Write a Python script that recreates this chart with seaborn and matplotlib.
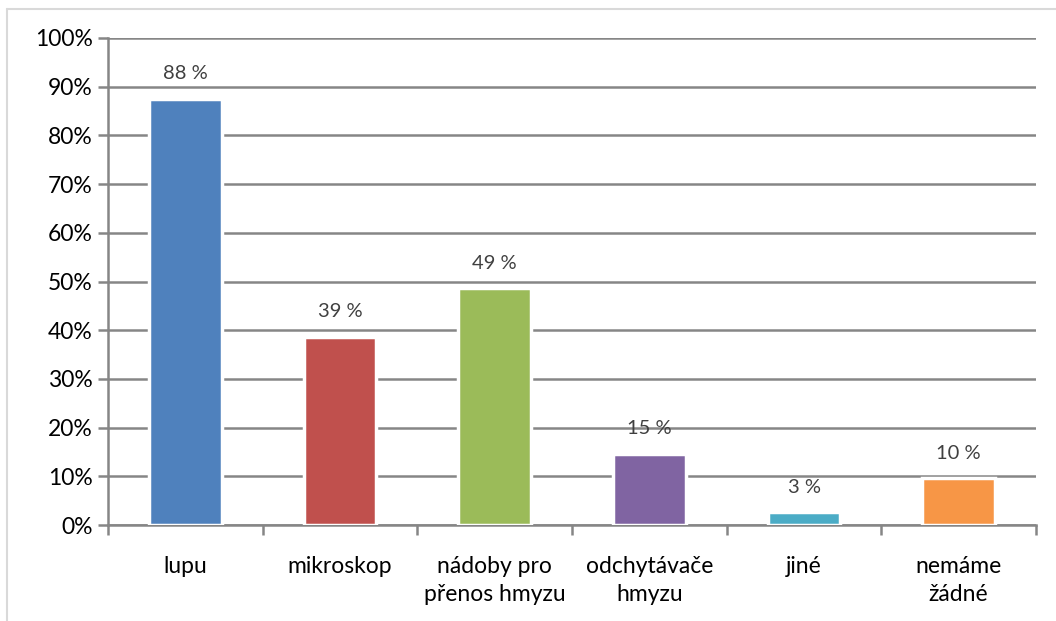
import numpy as np
import matplotlib.pyplot as plt
import pandas as pd
import seaborn as sns
from matplotlib.lines import Line2D

# data
categories = ['lupu', 'mikroskop', 'nádoby pro\npřenos hmyzu', 'odchytávače\nhmyzu', 'jiné', 'nemáme\nžádné']
values = [87.5, 38.6, 48.6, 14.6, 2.6, 9.6]
labels = ['88 %', '39 %', '49 %', '15 %', '3 %', '10 %']
colors = ['#4F81BD', '#C0504D', '#9BBB59', '#8064A2', '#4BACC6', '#F79646']

sns.set_theme(style='white')
plt.rcParams['font.family'] = ['Lato', 'DejaVu Sans']

data = pd.DataFrame({'cat': categories, 'val': values})

fig = plt.figure(figsize=(10.56, 6.21), dpi=100)
ax = fig.add_axes([108 / 1056, 1 - 525 / 621, 928 / 1056, 487 / 621])

sns.barplot(data=data, x='cat', y='val', hue='cat', palette=colors, legend=False,
            saturation=1, width=0.47, edgecolor='white', linewidth=2.5, ax=ax, zorder=3)

# gridlines
ax.set_ylim(0, 100)
ax.set_xlim(-0.5, 5.5)
ax.set_yticks(np.arange(0, 101, 10))
ax.set_yticklabels([f'{v}%' for v in range(0, 101, 10)])
ax.yaxis.grid(True, color='#868686', linewidth=1.8, zorder=0)
ax.set_axisbelow(True)

for s in ['top', 'right']:
    ax.spines[s].set_visible(False)
for s in ['left', 'bottom']:
    ax.spines[s].set_color('#868686')
    ax.spines[s].set_linewidth(1.8)

ax.tick_params(axis='y', length=7, width=1.8, color='#868686', labelsize=16.5,
               labelcolor='black', pad=4, left=True, direction='out')
ax.tick_params(axis='x', length=0, labelsize=16.5, labelcolor='black', pad=22)
ax.set_xticks(np.arange(-0.5, 6, 1), minor=True)
ax.tick_params(axis='x', which='minor', length=7, width=1.8, color='#868686',
               bottom=True, direction='out')
ax.set_xlabel('')
ax.set_ylabel('')
for t in ax.get_xticklabels():
    t.set_linespacing(1.45)

# data labels
for i, (v, lab) in enumerate(zip(values, labels)):
    ax.annotate(lab, (i, v), xytext=(0, 12), textcoords='offset points',
                ha='center', va='bottom', fontsize=14.5, color='#404040')

# outer chart border
fig.add_artist(Line2D([7 / 1056, 1], [1 - 9 / 621, 1 - 9 / 621], color='#D9D9D9', linewidth=1.5))
fig.add_artist(Line2D([7 / 1056, 7 / 1056], [0, 1 - 9 / 621], color='#D9D9D9', linewidth=1.5))

fig.savefig('out.png', dpi=100)
